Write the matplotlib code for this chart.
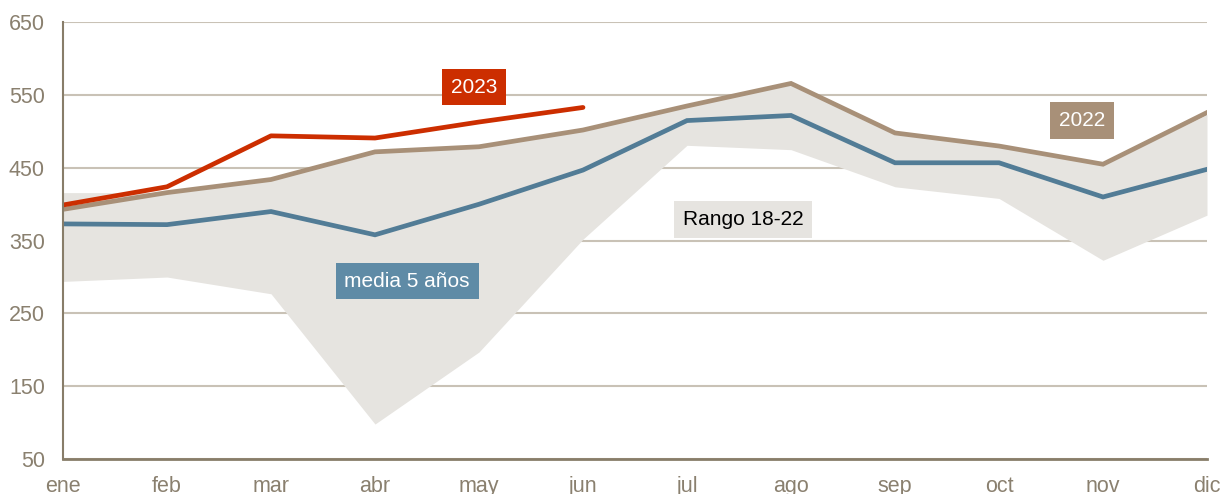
import matplotlib
matplotlib.use("Agg")
import matplotlib.pyplot as plt

plt.rcParams['font.family'] = ['Liberation Sans', 'DejaVu Sans']

months = ["ene", "feb", "mar", "abr", "may", "jun", "jul", "ago", "sep", "oct", "nov", "dic"]
y2023 = [399, 424, 494, 491, 513, 533]
y2022 = [393, 416, 434, 472, 479, 502, 535, 566, 498, 480, 455, 526]
media5 = [373, 372, 390, 358, 400, 447, 515, 522, 457, 457, 410, 448]
rango_hi = [416, 416, 434, 472, 479, 502, 535, 566, 498, 480, 455, 523]
rango_lo = [294, 300, 277, 98, 197, 352, 481, 475, 424, 408, 323, 385]
yticks = [50, 150, 250, 350, 450, 550, 650]

C_RED = "#CC2E00"
C_TAN = "#A89078"
C_BLUE = "#527C96"
C_BAND = "#E6E4E0"
C_GRID = "#C9C2B6"
C_AXIS = "#887D69"
C_TICK = "#8A806F"

fig = plt.figure(figsize=(12.24, 4.94), dpi=100)
ax = fig.add_axes([63/1224, 1 - 459/494, (1207 - 63)/1224, (459 - 22.3)/494])

x = list(range(len(months)))
ax.fill_between(x, rango_lo, rango_hi, color=C_BAND, lw=0, zorder=1)
ax.plot(x, media5, color=C_BLUE, lw=3.4, zorder=3, solid_joinstyle='miter')
ax.plot(x, y2022, color=C_TAN, lw=3.4, zorder=4, solid_joinstyle='miter')
ax.plot(x[:len(y2023)], y2023, color=C_RED, lw=3.4, zorder=5, solid_capstyle='round')

ax.set_xlim(0, 11)
ax.set_ylim(50, 650)
ax.set_yticks(yticks)
ax.set_xticks(x)
ax.set_xticklabels(months)
ax.grid(axis='y', color=C_GRID, lw=1.5, zorder=0)
ax.set_axisbelow(True)
for s in ['top', 'right']:
    ax.spines[s].set_visible(False)
ax.spines['left'].set_color(C_AXIS)
ax.spines['left'].set_linewidth(1.5)
ax.spines['bottom'].set_color(C_AXIS)
ax.spines['bottom'].set_linewidth(2.0)
ax.spines['left'].set_zorder(6)
ax.spines['bottom'].set_zorder(6)
ax.tick_params(axis='both', length=0, labelsize=15.5, colors=C_TICK)
ax.tick_params(axis='y', pad=13)
ax.tick_params(axis='x', pad=12)

def label(xv, yv, txt, fc, tc):
    ax.text(xv, yv, txt, ha='center', va='center', fontsize=15, color=tc, zorder=7,
            bbox=dict(boxstyle='square,pad=0.42', fc=fc, ec='none'))

label(3.95, 561, "2023", C_RED, "white")
label(3.31, 294.5, "media 5 años", "#5F8BA6", "white")
label(6.54, 379, "Rango 18-22", C_BAND, "black")
label(9.80, 515, "2022", C_TAN, "white")

fig.savefig("out.png", dpi=100)
